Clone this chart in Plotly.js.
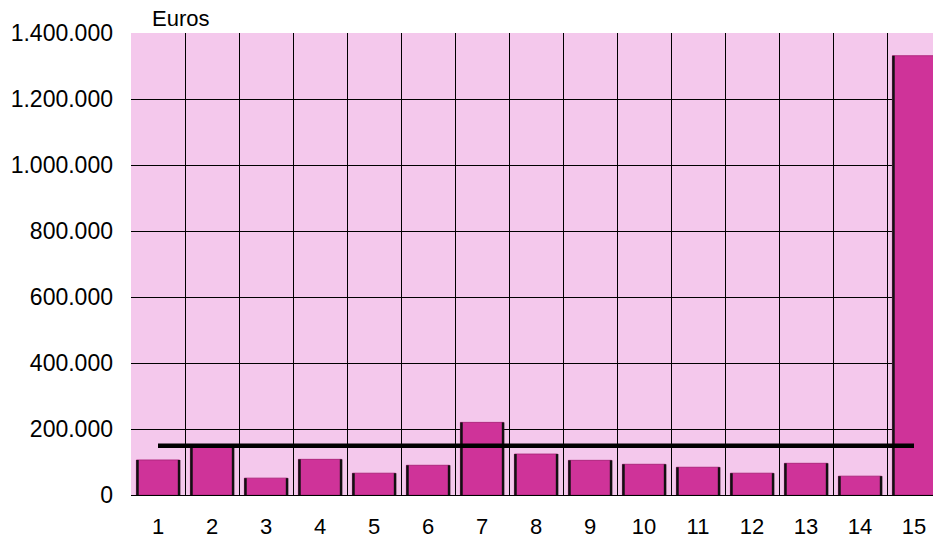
<!DOCTYPE html>
<html>
<head>
<meta charset="utf-8">
<script src="https://cdn.plot.ly/plotly-3.0.1.min.js"></script>
<style>
html,body{margin:0;padding:0;overflow:hidden;background:#fff;}
#chart{width:945px;height:543px;}
</style>
</head>
<body>
<div id="chart"></div>
<script>
var categories = [1, 2, 3, 4, 5, 6, 7, 8, 9, 10, 11, 12, 13, 14, 15];
var amounts = [106000, 146000, 51000, 108000, 66000, 90000, 220000, 124000, 105000, 93000, 84000, 66000, 96000, 57000, 1331000];
var referenceLine = [149000, 149000, 149000, 149000, 149000, 149000, 149000, 149000, 149000, 149000, 149000, 149000, 149000, 149000, 149000];
var yTicks = [0, 200000, 400000, 600000, 800000, 1000000, 1200000, 1400000];
var unitLabel = 'Euros';

var barWidth = 0.8;
var font = {family: 'Liberation Sans, Arial, sans-serif', size: 22, color: '#000'};
var yFont = {family: 'Liberation Sans, Arial, sans-serif', size: 23, color: '#000'};

// dark side edges of each bar (3D-style shading), derived from the data
var edgeX = [], edgeY = [];
categories.forEach(function (c, i) {
  [c - barWidth / 2 + 0.02, c + barWidth / 2 - 0.01].forEach(function (ex) {
    edgeX.push(ex, ex, null);
    edgeY.push(-6000, amounts[i], null);
  });
});

var traces = [
  {
    type: 'bar',
    x: categories,
    y: amounts,
    width: barWidth,
    marker: {color: '#CF3399', line: {color: '#B0287F', width: 1}},
    hoverinfo: 'x+y'
  },
  {
    type: 'scatter',
    mode: 'lines',
    x: edgeX,
    y: edgeY,
    line: {color: '#111', width: 2.5},
    hoverinfo: 'skip',
    cliponaxis: false
  },
  {
    type: 'scatter',
    mode: 'lines',
    x: categories,
    y: referenceLine,
    line: {color: '#000', width: 4.5},
    hoverinfo: 'y'
  }
];

var layout = {
  width: 945,
  height: 543,
  margin: {l: 131, r: 4, t: 33, b: 48},
  paper_bgcolor: '#fff',
  plot_bgcolor: '#F4C8EC',
  showlegend: false,
  font: font,
  separators: ',.',
  xaxis: {
    range: [0.5, 15.5],
    tickmode: 'array',
    tickvals: categories,
    ticktext: categories.map(String),
    showgrid: false,
    zeroline: false,
    showline: false,
    ticks: '',
    ticklabelstandoff: 16,
    tickfont: font,
    minor: {tick0: 0.5, dtick: 1, showgrid: true, gridcolor: '#000', gridwidth: 1, ticks: ''}
  },
  yaxis: {
    range: [0, 1400000],
    tickmode: 'array',
    tickvals: yTicks,
    tickformat: ',d',
    showgrid: true,
    gridcolor: '#000',
    gridwidth: 1,
    zeroline: true,
    zerolinecolor: '#000',
    zerolinewidth: 1,
    showline: false,
    ticks: '',
    ticklabelstandoff: 17,
    tickfont: yFont
  },
  annotations: [
    {
      text: unitLabel,
      xref: 'paper', yref: 'paper',
      x: 0, y: 1,
      xanchor: 'left', yanchor: 'bottom',
      xshift: 19, yshift: 0,
      showarrow: false,
      font: font
    }
  ]
};

Plotly.newPlot('chart', traces, layout, {displayModeBar: false, staticPlot: true});
</script>
</body>
</html>
